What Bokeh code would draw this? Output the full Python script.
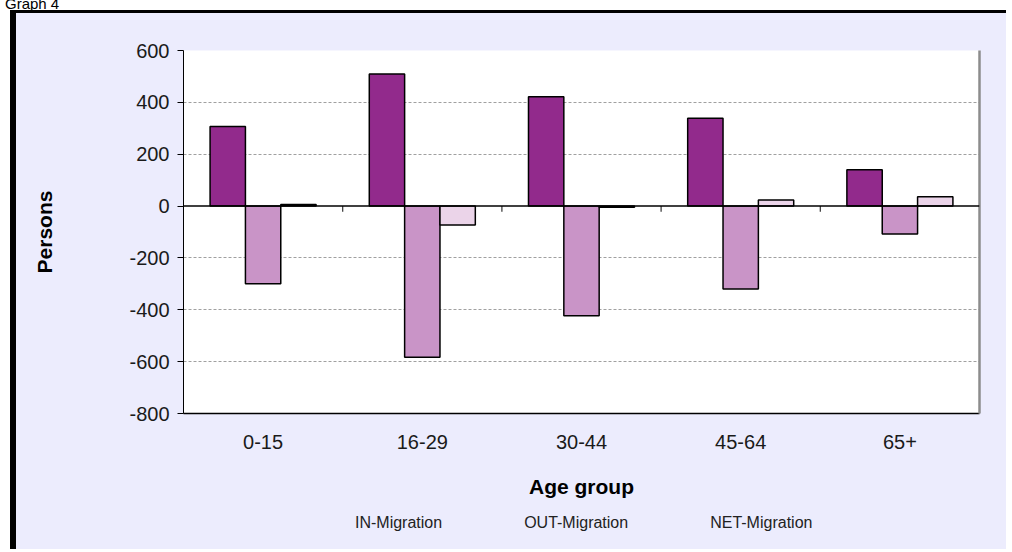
from bokeh.plotting import figure
from bokeh.layouts import column
from bokeh.models import (FactorRange, ColumnDataSource, Legend, LegendItem, Span,
                          LinearAxis, FixedTicker, PrintfTickFormatter, Range1d, Div,
                          CDSView, IndexFilter)
from bokeh.transform import dodge
from bokeh.embed import file_html
from bokeh.resources import INLINE

# ---- data ----
categories = ["0-15", "16-29", "30-44", "45-64", "65+"]
in_migration = [307, 509, 422, 339, 140]
out_migration = [-300, -583, -423, -320, -108]
net_migration = [6, -73, -5, 23, 36]
series_names = ["IN-Migration", "OUT-Migration", "NET-Migration"]
y_ticks = [-800, -600, -400, -200, 0, 200, 400, 600]
grid_ticks = [-600, -400, -200, 200, 400]
caption = "Graph 4"

colors = ["#922A8C", "#C994C7", "#EBD4E9"]
BG = "#ECECFD"
FONT = "Liberation Sans"

source = ColumnDataSource(dict(cat=categories, inm=in_migration,
                               outm=out_migration, netm=net_migration))
value_cols = ["inm", "outm", "netm"]

# ---------------- main chart ----------------
p = figure(x_range=FactorRange(*categories, range_padding=0),
           y_range=Range1d(-800, 600),
           width=996, height=500, output_backend="svg", toolbar_location=None,
           min_border_left=167, min_border_right=33, min_border_top=37,
           min_border_bottom=100,
           border_fill_color=BG, background_fill_color="white",
           outline_line_color=None)
p.styles = {"border-top": "3px solid black", "border-left": "6px solid black",
            "margin-left": "10px", "margin-top": "10px", "background-color": BG}

w = 0.222
offsets = [-w, 0, w]
bar_style = dict(source=source, bottom=0, width=w, line_color="black", line_width=1.5)
for col, off, c in zip(value_cols, offsets, colors):
    p.vbar(x=dodge("cat", off, range=p.x_range), top=col, fill_color=c, **bar_style)

# zero line and category boundary ticks
p.add_layout(Span(location=0, dimension="width", line_color="black", line_width=1.5))
bsrc = ColumnDataSource(dict(cat=categories[:-1]))
p.segment(x0=dodge("cat", 0.5, range=p.x_range), x1=dodge("cat", 0.5, range=p.x_range),
          y0=0, y1=-22, source=bsrc, line_color="#333333", line_width=1.2)

# y axis
p.yaxis.ticker = FixedTicker(ticks=y_ticks)
p.yaxis.formatter = PrintfTickFormatter(format="%d")
p.yaxis.major_label_text_font = FONT
p.yaxis.major_label_text_font_size = "20px"
p.yaxis.major_label_text_color = "#1a1a1a"
p.yaxis.major_tick_out = 6
p.yaxis.major_tick_in = 0
p.yaxis.major_label_standoff = 8
p.yaxis.minor_tick_line_color = None
p.yaxis.axis_line_color = "black"
p.yaxis.axis_label = "Persons"
p.yaxis.axis_label_text_font = FONT
p.yaxis.axis_label_text_font_style = "bold"
p.yaxis.axis_label_text_font_size = "21px"
p.yaxis.axis_label_text_color = "black"
p.yaxis.axis_label_standoff = 70

# x axis
p.xaxis.major_tick_line_color = None
p.xaxis.major_tick_out = 0
p.xaxis.axis_line_color = "black"
p.xaxis.axis_line_width = 1.5
p.xaxis.major_label_text_font = FONT
p.xaxis.major_label_text_font_size = "20px"
p.xaxis.major_label_text_color = "#1a1a1a"
p.xaxis.major_label_standoff = 21
p.xaxis.axis_label = "Age group"
p.xaxis.axis_label_text_font = FONT
p.xaxis.axis_label_text_font_style = "bold"
p.xaxis.axis_label_text_font_size = "21px"
p.xaxis.axis_label_text_color = "black"
p.xaxis.axis_label_standoff = 23

# right border of plot area
right_axis = LinearAxis(ticker=FixedTicker(ticks=[]), major_tick_line_color=None,
                        minor_tick_line_color=None, major_label_text_font_size="0px",
                        axis_line_color="#8c8c8c", axis_line_width=2.5)
p.add_layout(right_axis, "right")

# grid
p.xgrid.visible = False
p.ygrid.ticker = FixedTicker(ticks=grid_ticks)
p.ygrid.grid_line_color = "#a0a0a0"
p.ygrid.grid_line_dash = "3 2"
p.ygrid.grid_line_width = 1

# ---------------- legend strip (continuation of the chart area) ----------------
q = figure(x_range=FactorRange(*categories, range_padding=0),
           y_range=Range1d(1000, 4000),
           width=996, height=39, output_backend="svg", toolbar_location=None,
           x_axis_location=None, y_axis_location=None,
           min_border_left=0, min_border_right=0, min_border_top=0, min_border_bottom=0,
           border_fill_color=BG, background_fill_color=BG, outline_line_color=None)
q.styles = {"border-left": "6px solid black", "margin-left": "10px",
            "background-color": BG}
q.grid.visible = False
# key-only renderers: same series, but the view selects no rows, so no bars are drawn here
legend_renderers = [q.vbar(x=dodge("cat", off, range=q.x_range), top=col, fill_color=c,
                           view=CDSView(filter=IndexFilter(indices=[])), **bar_style)
                    for col, off, c in zip(value_cols, offsets, colors)]
legend = Legend(items=[LegendItem(label=n, renderers=[r])
                       for n, r in zip(series_names, legend_renderers)],
                orientation="horizontal", location=(160, 17),
                glyph_width=11, glyph_height=11, label_standoff=1, spacing=70,
                padding=0, margin=0, border_line_alpha=0, background_fill_alpha=0,
                label_text_font=FONT, label_text_font_size="16px",
                label_text_color="#222222")
q.add_layout(legend)

div = Div(text='<div style="font-family:\'Liberation Sans\'; font-size:15px;'
               ' line-height:15px; white-space:nowrap; color:#000;">'
               + caption + '</div>',
          width=200, height=15,
          styles={"position": "absolute", "top": "-9px", "left": "0px",
                  "overflow": "visible"})

layout = column(div, p, q, spacing=0)
open("out.html", "w").write(file_html(layout, INLINE))
